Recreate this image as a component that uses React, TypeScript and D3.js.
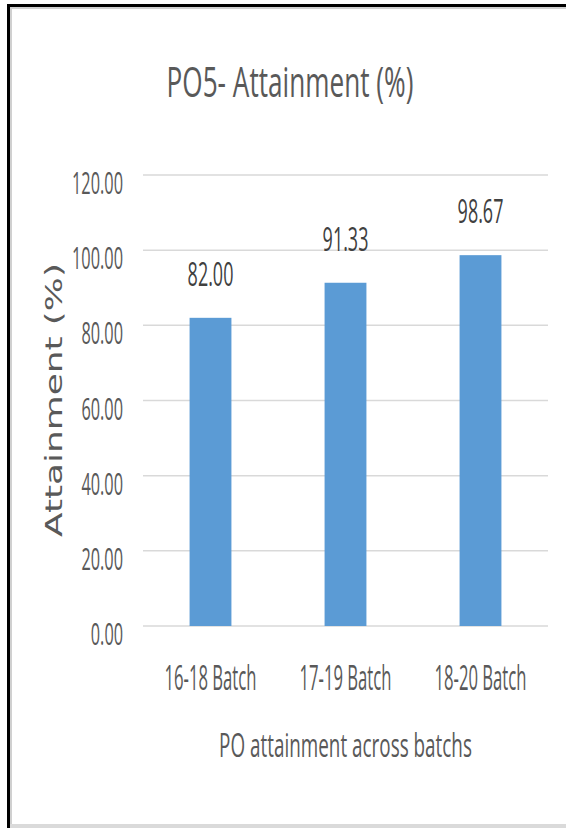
import React, { useLayoutEffect, useRef, useState } from 'react';
import * as d3 from 'd3';

// chart values
const batches = ['16-18 Batch', '17-19 Batch', '18-20 Batch'];
const attainment = [82.0, 91.33, 98.67];
const yTicks = [0, 20, 40, 60, 80, 100, 120];
const title = 'PO5- Attainment (%)';
const xTitle = 'PO attainment across batchs';
const yTitle = 'Attainment (%)';

const W = 566;
const H = 828;
const plot = { left: 143, right: 548, top: 175, bottom: 626 };
const textColor = '#595959';
const font = "'Open Sans', 'Liberation Sans', sans-serif";

// the source picture is squeezed sideways, so widths are forced
const numWidth = (s: string, digit: number, dot: number) =>
	s.split('').reduce((acc, c) => acc + (c === '.' ? dot : digit), 0);

// text squeezed (or stretched) along its run to a given width
const FitText = ({ x, y, width, anchor = 'middle', rotate = 0, children, ...rest }: any) => {
	const ref = useRef<SVGTextElement>(null);
	const [sx, setSx] = useState(1);
	useLayoutEffect(() => {
		if (!ref.current) return;
		const natural = ref.current.getComputedTextLength();
		if (natural > 0) setSx(width / natural);
	}, [width, children]);
	return (
		<text
			ref={ref}
			transform={`translate(${x},${y}) rotate(${rotate}) scale(${sx},1)`}
			textAnchor={anchor}
			{...rest}
		>
			{children}
		</text>
	);
};

const App = () => {
	const xScale = d3
		.scaleBand()
		.domain(batches)
		.range([plot.left, plot.right])
		.paddingInner(0.69)
		.paddingOuter(0.345);
	const yScale = d3.scaleLinear().domain([0, 120]).range([plot.bottom, plot.top]);
	const fmt = (v: number) => v.toFixed(2);

	return (
		<svg
			width={W}
			height={H}
			style={{ position: 'absolute', left: 0, top: 0, background: '#fff' }}
		>
			{/* frame */}
			<rect x={0} y={0} width={W} height={H} fill='#fff' />
			<rect x={7} y={4} width={W - 7} height={3} fill='#000' />
			<rect x={10} y={7} width={W - 10} height={2} fill='#d0d0d0' />
			<rect x={7} y={4} width={3} height={H - 4} fill='#000' />
			<rect x={10} y={7} width={2} height={H - 7} fill='#d0d0d0' />
			<rect x={10} y={824} width={W - 10} height={4} fill='#dadada' />

			{/* title */}
			<FitText x={290} y={97} width={247} fontFamily={font} fontSize={42} fill={textColor}>
				{title}
			</FitText>

			{/* gridlines + y tick labels */}
			<g className='y-axis'>
				{yTicks.map((v) => (
					<g key={v}>
						<line
							x1={plot.left}
							x2={plot.right}
							y1={yScale(v)}
							y2={yScale(v)}
							stroke='#d9d9d9'
							strokeWidth={1.5}
						/>
						<FitText
							x={123}
							y={yScale(v) + 19}
							anchor='end'
							width={numWidth(fmt(v), 9.4, 4)}
							fontFamily={font}
							fontSize={31}
							fill={textColor}
						>
							{fmt(v)}
						</FitText>
					</g>
				))}
			</g>

			{/* bars */}
			<g className='bars'>
				{batches.map((b, i) => (
					<rect
						key={b}
						x={xScale(b)}
						y={yScale(attainment[i])}
						width={xScale.bandwidth()}
						height={yScale(0) - yScale(attainment[i])}
						fill='#5b9bd5'
					/>
				))}
			</g>

			{/* data labels */}
			<g className='data-labels'>
				{batches.map((b, i) => (
					<FitText
						key={b}
						x={(xScale(b) as number) + xScale.bandwidth() / 2}
						y={yScale(attainment[i]) - 32}
						width={numWidth(fmt(attainment[i]), 10.2, 5)}
						fontFamily={font}
						fontSize={32}
						fill='#404040'
					>
						{fmt(attainment[i])}
					</FitText>
				))}
			</g>

			{/* x tick labels */}
			<g className='x-axis'>
				{batches.map((b) => (
					<FitText
						key={b}
						x={(xScale(b) as number) + xScale.bandwidth() / 2}
						y={690}
						width={92}
						fontFamily={font}
						fontSize={35}
						fill={textColor}
					>
						{b}
					</FitText>
				))}
			</g>

			{/* axis titles */}
			<FitText
				x={(plot.left + plot.right) / 2}
				y={757}
				width={253}
				fontFamily={font}
				fontSize={33}
				fill={textColor}
			>
				{xTitle}
			</FitText>
			<FitText
				x={62}
				y={400}
				rotate={-90}
				width={274}
				fontFamily="'DejaVu Sans', sans-serif"
				fontSize={23}
				fill={textColor}
			>
				{yTitle}
			</FitText>
		</svg>
	);
};

export default App;
